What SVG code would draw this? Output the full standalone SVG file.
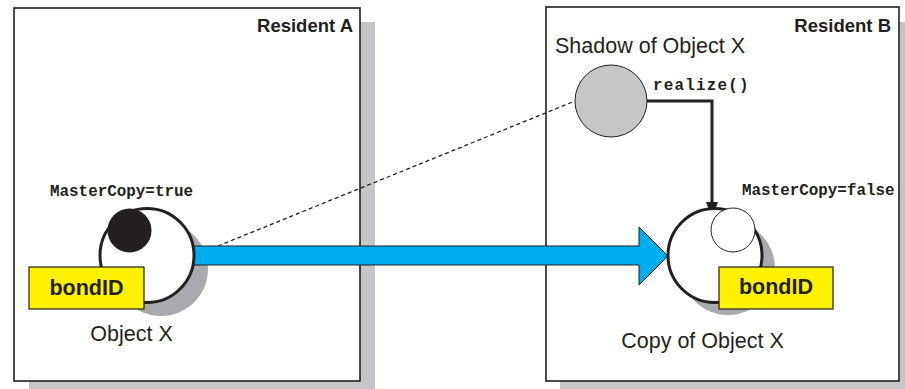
<svg xmlns="http://www.w3.org/2000/svg" width="905" height="389" viewBox="0 0 905 389">
  <defs>
    <style>
      .shadow { fill: #c6c6c8; }
      .box { fill: #ffffff; stroke: #231f20; stroke-width: 1.6; }
      .title { font-family: "Liberation Sans", Arial, sans-serif; font-weight: bold; font-size: 18.5px; fill: #231f20; }
      .label { font-family: "Liberation Sans", Arial, sans-serif; font-size: 21.5px; fill: #231f20; }
      .code { font-family: "Liberation Mono", "Courier New", monospace; font-weight: bold; font-size: 15.9px; fill: #231f20; }
      .circ-shadow { fill: #a9aaad; }
      .obj { fill: #ffffff; stroke: #231f20; stroke-width: 3; }
      .bond { fill: #fff200; stroke: #231f20; stroke-width: 1.2; }
      .bond-text { font-family: "Liberation Sans", Arial, sans-serif; font-weight: bold; font-size: 21.5px; fill: #231f20; }
    </style>
  </defs>

  <!-- Resident A -->
  <g id="resident-a">
    <rect class="shadow" x="29" y="22" width="346" height="374"/>
    <rect class="box" x="14" y="8" width="346" height="373"/>
    <text class="title" x="353" y="32" text-anchor="end">Resident A</text>
  </g>

  <!-- Resident B -->
  <g id="resident-b">
    <rect class="shadow" x="560" y="22" width="354" height="374"/>
    <rect class="box" x="546" y="7" width="353" height="374"/>
    <text class="title" x="891" y="32" text-anchor="end">Resident B</text>
  </g>

  <!-- Connectors -->
  <g id="connectors">
    <line x1="218" y1="246" x2="575" y2="101" stroke="#231f20" stroke-width="1.3" stroke-dasharray="4,3"/>
    <path d="M647,101 H712 V204" fill="none" stroke="#231f20" stroke-width="3"/>
    <polygon points="706,202 718,202 712,218" fill="#231f20"/>
  </g>

  <!-- Object X (master) -->
  <g id="object-x">
    <circle class="circ-shadow" cx="161" cy="269" r="47"/>
    <!-- transfer arrow sits over the shadow, under the object -->
    <path d="M190,246 H639 V227 L668,256 L639,285 V265 H190 Z" fill="#00aeef" stroke="#231f20" stroke-width="1"/>
    <circle class="obj" cx="147" cy="255.5" r="47"/>
    <circle cx="129.5" cy="230.5" r="22" fill="#231f20"/>
    <text class="code" x="50" y="196">MasterCopy=true</text>
    <rect class="bond" x="29" y="267" width="115" height="42"/>
    <text class="bond-text" x="86.5" y="295" text-anchor="middle">bondID</text>
    <text class="label" x="131.5" y="341" text-anchor="middle">Object X</text>
  </g>

  <!-- Shadow of Object X -->
  <g id="shadow-object">
    <text class="label" x="555" y="53">Shadow of Object X</text>
    <circle cx="611" cy="101" r="36" fill="#c6c6c8" stroke="#231f20" stroke-width="1"/>
    <text class="code" x="653" y="90" letter-spacing="1.2">realize()</text>
  </g>

  <!-- Copy of Object X -->
  <g id="copy-object">
    <circle class="circ-shadow" cx="728" cy="268" r="47"/>
    <circle class="obj" cx="715" cy="255.5" r="47"/>
    <circle cx="733" cy="230" r="22" fill="#ffffff" stroke="#231f20" stroke-width="1"/>
    <text class="code" x="742" y="195">MasterCopy=false</text>
    <rect class="bond" x="719" y="267" width="114" height="42"/>
    <text class="bond-text" x="776" y="294" text-anchor="middle">bondID</text>
    <text class="label" x="702.5" y="348" text-anchor="middle">Copy of Object X</text>
  </g>
</svg>
